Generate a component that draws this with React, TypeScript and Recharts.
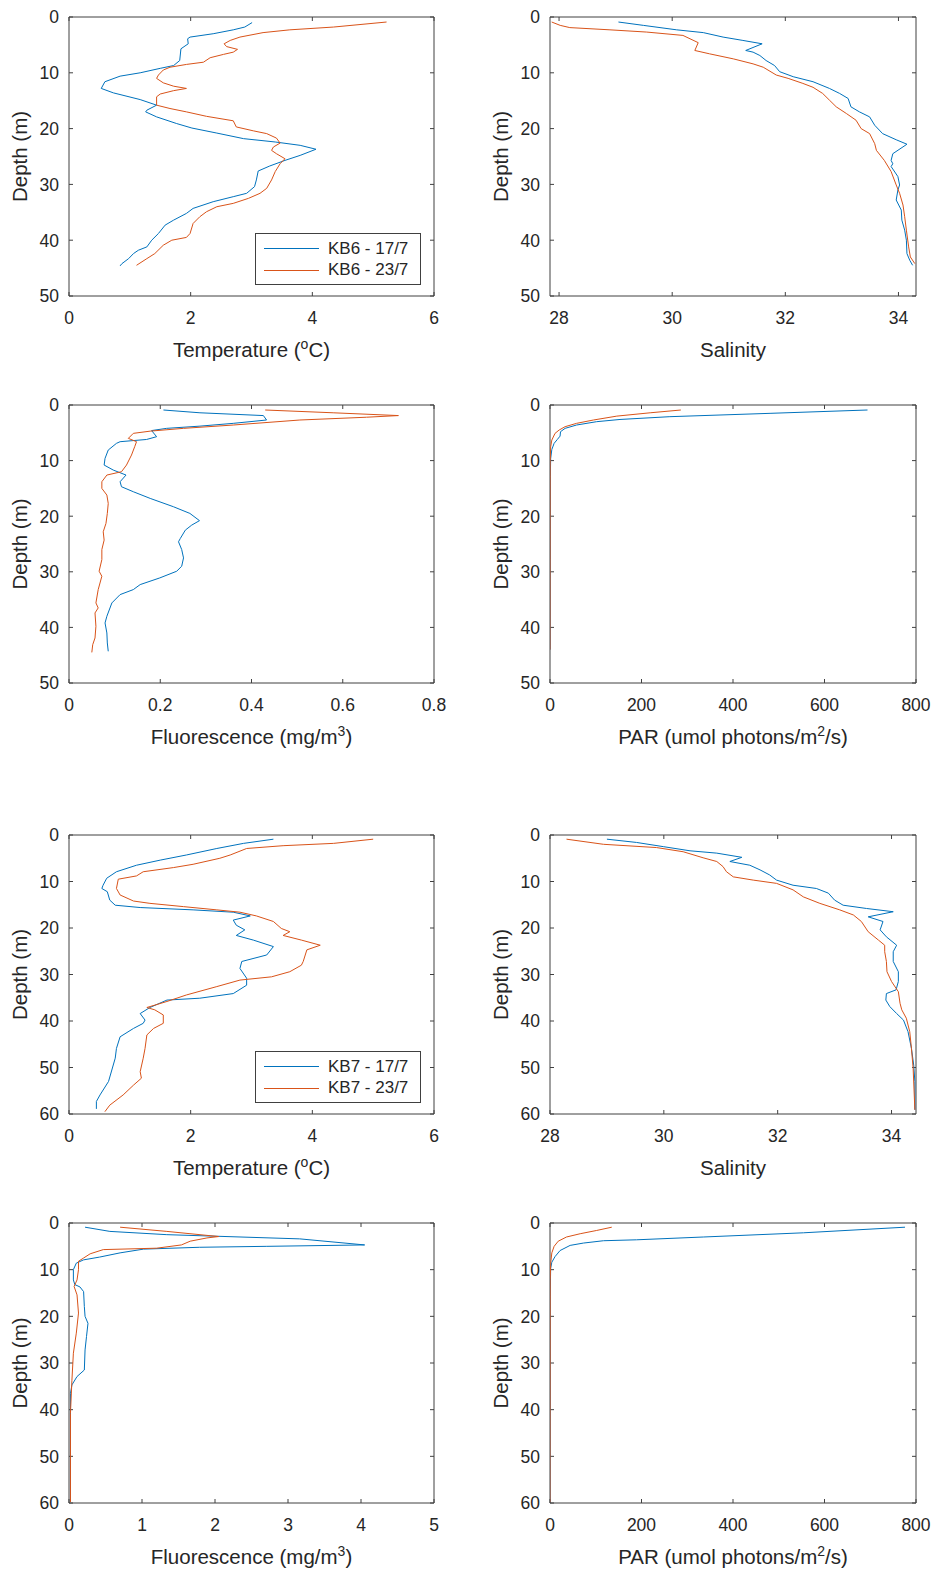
import React from 'react';
import { ScatterChart, Scatter, XAxis, YAxis } from 'recharts';

const FONT = '"Liberation Sans", Arial, Helvetica, sans-serif';
const INK = '#262626';
const AXIS = '#404040';
const BLUE = '#0072BD';
const ORANGE = '#D95319';
const TICK_FS = 17.5;
const LABEL_FS = 20.5;

// profiles as [depth (m), value]
const kb6Temp17 = [[1.0,3.01],[1.8,2.89],[2.3,2.70],[3.0,2.37],[3.6,1.99],[3.9,1.95],[4.8,1.96],[5.7,1.84],[7.8,1.82],[8.7,1.72],[9.2,1.50],[10.0,1.17],[10.6,0.84],[11.6,0.59],[12.8,0.53],[13.6,0.73],[14.8,1.17],[15.8,1.44],[16.7,1.28],[17.0,1.26],[17.9,1.44],[19.1,1.77],[19.9,2.02],[20.8,2.43],[21.8,2.87],[22.4,3.39],[23.0,3.80],[23.7,4.06],[24.8,3.80],[25.7,3.55],[26.7,3.30],[27.6,3.11],[29.2,3.08],[30.4,3.05],[31.6,2.92],[32.2,2.70],[33.1,2.37],[34.3,2.04],[35.2,1.93],[36.4,1.72],[37.3,1.58],[38.8,1.47],[40.0,1.36],[41.2,1.28],[41.8,1.14],[42.4,1.06],[43.3,0.98],[44.2,0.87],[44.6,0.84]];
const kb6Temp23 = [[0.9,5.22],[1.8,4.35],[2.3,3.63],[2.8,3.19],[3.6,2.81],[4.2,2.65],[4.8,2.55],[5.3,2.59],[5.8,2.77],[6.3,2.70],[6.7,2.54],[7.3,2.32],[8.1,2.21],[8.5,1.93],[9.0,1.66],[9.5,1.55],[10.4,1.47],[11.0,1.44],[11.8,1.55],[12.4,1.72],[12.8,1.93],[13.2,1.72],[13.8,1.50],[14.3,1.44],[15.8,1.44],[16.4,1.66],[17.0,1.93],[17.8,2.26],[18.6,2.70],[19.7,2.75],[20.4,3.03],[20.9,3.25],[21.7,3.41],[22.6,3.47],[23.3,3.36],[23.9,3.33],[24.5,3.41],[25.4,3.55],[26.3,3.47],[27.7,3.39],[29.2,3.33],[30.7,3.25],[31.6,3.14],[32.5,2.95],[33.4,2.70],[34.0,2.43],[34.9,2.26],[35.8,2.15],[37.0,2.04],[38.8,1.99],[39.5,1.93],[40.0,1.69],[40.9,1.55],[42.4,1.41],[43.3,1.28],[44.5,1.11]];

const kb6Sal17 = [[0.9,29.05],[1.5,29.49],[2.3,30.08],[2.8,30.55],[3.6,30.90],[4.2,31.25],[4.8,31.59],[6.0,31.30],[6.3,31.43],[6.9,31.55],[7.8,31.66],[8.7,31.81],[9.8,31.90],[10.7,32.14],[11.6,32.49],[12.8,32.78],[13.7,32.96],[14.6,33.11],[16.1,33.16],[17.0,33.31],[17.9,33.49],[19.4,33.58],[20.9,33.72],[22.0,33.96],[22.8,34.15],[24.5,33.90],[25.7,33.87],[26.3,33.90],[26.8,33.87],[28.6,33.99],[30.1,34.02],[31.0,33.99],[32.8,33.96],[34.6,34.05],[36.4,34.06],[38.2,34.11],[40.0,34.14],[42.4,34.15],[43.6,34.20],[44.5,34.25]];
const kb6Sal23 = [[0.9,27.87],[1.5,28.02],[1.9,28.19],[2.3,28.90],[2.7,29.55],[3.3,30.19],[4.6,30.46],[6.0,30.40],[6.6,30.66],[7.5,31.08],[8.4,31.43],[9.0,31.61],[10.4,31.84],[11.0,32.05],[11.9,32.31],[12.6,32.49],[13.7,32.66],[14.9,32.78],[16.1,32.90],[17.3,33.08],[18.5,33.25],[20.0,33.34],[20.9,33.49],[22.7,33.58],[23.9,33.61],[25.7,33.75],[27.7,33.87],[30.1,33.96],[31.6,34.02],[33.7,34.08],[35.8,34.11],[38.2,34.14],[41.2,34.18],[43.0,34.21],[44.2,34.29]];

const kb6Fluo17 = [[0.9,0.207],[1.4,0.287],[1.9,0.426],[2.7,0.433],[3.3,0.36],[3.8,0.287],[4.2,0.214],[4.6,0.181],[5.7,0.192],[6.2,0.170],[6.6,0.112],[6.9,0.104],[8.1,0.086],[9.6,0.079],[10.8,0.077],[11.7,0.097],[12.6,0.125],[13.8,0.112],[14.7,0.115],[15.6,0.141],[16.8,0.178],[18.3,0.229],[19.5,0.265],[20.8,0.286],[21.6,0.269],[22.5,0.255],[24.0,0.244],[24.6,0.240],[26.0,0.247],[27.5,0.251],[29.0,0.247],[29.9,0.236],[31.1,0.199],[32.3,0.156],[33.2,0.141],[34.1,0.112],[35.6,0.094],[38.0,0.083],[39.2,0.079],[41.0,0.083],[42.8,0.084],[44.3,0.086]];
const kb6Fluo23 = [[0.9,0.430],[1.4,0.579],[1.9,0.722],[2.2,0.652],[2.7,0.506],[3.6,0.360],[4.2,0.251],[4.7,0.178],[5.1,0.141],[6.0,0.130],[6.6,0.148],[7.5,0.144],[9.0,0.137],[10.8,0.126],[12.0,0.115],[12.6,0.083],[13.8,0.072],[15.0,0.072],[16.2,0.083],[17.7,0.086],[19.5,0.084],[21.3,0.081],[22.8,0.075],[24.3,0.077],[26.0,0.072],[27.8,0.072],[29.9,0.066],[30.8,0.072],[33.2,0.064],[35.6,0.059],[36.5,0.064],[37.4,0.057],[39.8,0.059],[41.9,0.057],[43.1,0.052],[44.5,0.050]];

const kb6Par17 = [[0.9,694],[1.5,481],[2.1,262],[2.6,153],[3.0,102],[3.6,58],[4.2,33],[4.8,23],[5.6,22],[6.2,16],[6.9,9],[8.0,4],[9.6,1.5],[12.9,0.7],[27.8,0.3],[44.0,0.1]];
const kb6Par23 = [[0.9,286],[1.4,219],[2.0,146],[2.7,95],[3.3,58],[3.9,33],[4.5,20],[5.1,11],[6.3,4],[7.5,1.5],[9.9,0.5],[44.0,0]];

const kb7Temp17 = [[0.9,3.36],[1.8,2.87],[2.9,2.43],[4.3,1.93],[5.4,1.50],[6.5,1.11],[7.9,0.78],[9.3,0.62],[10.8,0.56],[11.5,0.54],[12.2,0.63],[14.0,0.67],[15.1,0.76],[15.6,1.17],[16.1,2.04],[16.6,2.70],[17.4,2.98],[18.3,2.70],[19.4,2.75],[20.4,2.89],[21.6,2.75],[22.6,3.03],[24.0,3.36],[25.8,3.25],[27.2,2.84],[28.7,2.81],[30.8,2.92],[32.3,2.92],[34.1,2.70],[35.1,2.15],[35.5,1.61],[37.1,1.33],[38.4,1.17],[39.8,1.25],[40.5,1.22],[41.6,1.06],[43.4,0.84],[45.9,0.78],[48.0,0.76],[53.0,0.65],[55.9,0.51],[57.3,0.45],[58.9,0.45]];
const kb7Temp23 = [[0.9,5.00],[1.8,4.35],[2.3,3.52],[2.9,2.92],[4.3,2.65],[5.0,2.48],[6.3,2.04],[7.0,1.72],[7.9,1.22],[8.8,1.11],[9.5,0.81],[11.5,0.78],[12.9,0.84],[14.2,1.06],[14.7,1.33],[15.4,1.88],[16.1,2.43],[16.6,2.81],[17.4,3.08],[18.6,3.36],[20.1,3.49],[20.8,3.63],[21.6,3.52],[22.6,3.82],[23.7,4.13],[24.7,3.91],[27.2,3.85],[28.0,3.82],[29.4,3.63],[30.5,3.33],[31.2,2.81],[32.6,2.43],[34.4,1.93],[35.8,1.61],[37.1,1.28],[37.6,1.41],[38.7,1.55],[40.5,1.55],[41.6,1.39],[43.0,1.28],[45.9,1.25],[48.0,1.22],[50.9,1.17],[52.3,1.19],[53.8,1.06],[55.9,0.89],[58.1,0.67],[59.5,0.59]];

const kb7Sal17 = [[0.9,29.00],[1.6,29.52],[2.5,29.99],[3.4,30.46],[3.9,30.93],[4.8,31.37],[5.7,31.16],[6.5,31.51],[7.5,31.69],[8.6,31.86],[9.7,31.98],[10.8,32.27],[11.5,32.68],[12.5,32.89],[14.0,33.00],[15.1,33.15],[15.8,33.56],[16.5,34.03],[17.6,33.59],[18.6,33.85],[20.4,33.80],[21.9,33.91],[23.7,34.09],[25.1,34.03],[27.2,34.03],[29.4,34.12],[31.5,34.12],[33.3,34.08],[34.1,33.91],[35.5,33.90],[36.9,33.97],[38.4,34.09],[39.8,34.21],[42.3,34.29],[45.9,34.35],[49.5,34.39],[53.0,34.41],[59.1,34.41]];
const kb7Sal23 = [[0.9,28.29],[2.0,28.94],[2.7,29.87],[3.6,30.34],[4.9,30.69],[5.7,30.93],[6.8,31.04],[7.9,31.10],[9.0,31.22],[9.7,31.57],[10.4,31.98],[11.8,32.27],[13.3,32.45],[14.7,32.74],[16.1,33.09],[17.2,33.33],[18.6,33.47],[20.8,33.59],[22.6,33.77],[23.7,33.88],[25.1,33.88],[27.2,33.91],[29.4,33.92],[31.5,34.00],[33.7,34.12],[36.2,34.15],[37.6,34.18],[39.4,34.26],[42.3,34.32],[45.9,34.35],[50.2,34.38],[59.1,34.41]];

const kb7Fluo17 = [[0.9,0.22],[1.8,0.56],[2.5,1.34],[3.4,3.16],[4.7,4.05],[5.0,2.71],[5.2,1.79],[5.6,1.02],[6.4,0.70],[7.3,0.42],[7.9,0.20],[8.6,0.10],[10.0,0.06],[12.2,0.06],[13.2,0.08],[13.7,0.15],[14.7,0.20],[17.9,0.21],[20.0,0.22],[21.5,0.26],[24.3,0.24],[27.2,0.22],[31.5,0.21],[32.9,0.11],[34.7,0.04],[36.5,0.02],[59.8,0.02]];
const kb7Fluo23 = [[0.9,0.70],[1.8,1.34],[2.9,2.05],[3.2,1.89],[3.9,1.66],[4.7,1.54],[5.4,1.20],[5.7,0.47],[6.6,0.29],[7.5,0.20],[8.2,0.13],[10.0,0.13],[12.2,0.11],[13.6,0.07],[15.4,0.11],[19.3,0.13],[23.6,0.10],[27.9,0.06],[33.7,0.04],[40.8,0.02],[59.8,0.02]];

const kb7Par17 = [[0.9,776],[2.1,554],[3.0,335],[3.6,189],[3.8,117],[4.3,73],[4.8,44],[5.9,22],[7.2,11],[8.4,4],[9.7,1.5],[15.7,0.3],[59.8,0]];
const kb7Par23 = [[0.9,135],[1.6,102],[2.3,66],[3.0,36],[3.9,18],[5.0,9],[6.4,4],[8.6,1.5],[12.2,0.5],[59.8,0]];

const depthTicks50 = [0, 10, 20, 30, 40, 50];
const depthTicks60 = [0, 10, 20, 30, 40, 50, 60];
const tempTicks = [0, 2, 4, 6];
const salTicks = [28, 30, 32, 34];
const fluoTicksKB6 = [0, 0.2, 0.4, 0.6, 0.8];
const fluoTicksKB7 = [0, 1, 2, 3, 4, 5];
const parTicks = [0, 200, 400, 600, 800];
const legendKB6 = ['KB6 - 17/7', 'KB6 - 23/7'];
const legendKB7 = ['KB7 - 17/7', 'KB7 - 23/7'];

type XLabel = { pre: string; sup?: string; post?: string };
const tempLabel: XLabel = { pre: 'Temperature (', sup: 'o', post: 'C)' };
const salLabel: XLabel = { pre: 'Salinity' };
const fluoLabel: XLabel = { pre: 'Fluorescence (mg/m', sup: '3', post: ')' };
const parLabel: XLabel = { pre: 'PAR (umol photons/m', sup: '2', post: '/s)' };

const toPoints = (rows: number[][]) => rows.map(([d, v]) => ({ d, v }));

const BottomTick = (p: any) => (
  <text x={p.x} y={p.y} textAnchor="middle" fontSize={TICK_FS} fontFamily={FONT} fill={INK}>
    {p.payload.value}
  </text>
);
const LeftTick = (p: any) => (
  <text x={p.x} y={p.y + 6.3} textAnchor="end" fontSize={TICK_FS} fontFamily={FONT} fill={INK}>
    {p.payload.value}
  </text>
);
const NoTick = () => <g />;
const NoShape = () => <g />;

const TOP_H = 12;
const RIGHT_W = 20;
const BOTTOM_H = 68;

interface ProfileProps {
  left: number;
  top: number;
  axisW: number;
  plotW: number;
  plotH: number;
  xDomain: [number, number];
  xTicks: number[];
  yMax: number;
  yTicks: number[];
  xLabel: XLabel;
  first: number[][];
  second: number[][];
  legend?: string[];
}

const Profile: React.FC<ProfileProps> = ({ left, top, axisW, plotW, plotH, xDomain, xTicks, yMax, yTicks, xLabel, first, second, legend }) => {
  const width = axisW + plotW + RIGHT_W;
  const height = TOP_H + plotH + BOTTOM_H;
  const xLab = () => (
    <text x={axisW + plotW / 2} y={TOP_H + plotH + 61} textAnchor="middle" fontSize={LABEL_FS} fontFamily={FONT} fill={INK}>
      {xLabel.pre}
      {xLabel.sup && (
        <>
          <tspan dy={-8} fontSize={14}>{xLabel.sup}</tspan>
          <tspan dy={8}>{xLabel.post}</tspan>
        </>
      )}
    </text>
  );
  const yLab = () => (
    <text transform={`translate(${axisW - 42},${TOP_H + plotH / 2}) rotate(-90)`} textAnchor="middle" fontSize={LABEL_FS} fontFamily={FONT} fill={INK}>
      Depth (m)
    </text>
  );
  return (
    <div style={{ position: 'absolute', left, top: top - TOP_H, width, height }}>
      <ScatterChart width={width} height={height} margin={{ top: 0, right: 0, bottom: 0, left: 0 }}>
        <XAxis xAxisId="b" type="number" dataKey="v" orientation="bottom" domain={xDomain} ticks={xTicks} allowDataOverflow interval={0}
          height={BOTTOM_H} stroke={AXIS} tickSize={-4} tickMargin={32} tick={BottomTick} label={{ content: xLab }} />
        <XAxis xAxisId="t" type="number" dataKey="v" orientation="top" domain={xDomain} ticks={xTicks} allowDataOverflow interval={0}
          height={TOP_H} stroke={AXIS} tickSize={-4} tick={NoTick} />
        <YAxis yAxisId="l" type="number" dataKey="d" orientation="left" domain={[0, yMax]} ticks={yTicks} reversed allowDataOverflow interval={0}
          width={axisW} stroke={AXIS} tickSize={-4} tickMargin={14} tick={LeftTick} label={{ content: yLab }} />
        <YAxis yAxisId="r" type="number" dataKey="d" orientation="right" domain={[0, yMax]} ticks={yTicks} reversed allowDataOverflow interval={0}
          width={RIGHT_W} stroke={AXIS} tickSize={-4} tick={NoTick} />
        <Scatter xAxisId="b" yAxisId="l" data={toPoints(first)} fill="none" shape={NoShape} line={{ stroke: BLUE, strokeWidth: 1 }} lineType="joint" isAnimationActive={false} />
        <Scatter xAxisId="b" yAxisId="l" data={toPoints(second)} fill="none" shape={NoShape} line={{ stroke: ORANGE, strokeWidth: 1 }} lineType="joint" isAnimationActive={false} />
      </ScatterChart>
      {legend && (
        <div style={{ position: 'absolute', left: axisW + plotW - 13 - 166, top: TOP_H + plotH - 11 - 52, width: 164, height: 50, border: `1px solid ${AXIS}`, background: '#fff', fontFamily: FONT, fontSize: 17, color: INK }}>
          {legend.map((name, i) => (
            <div key={name} style={{ position: 'absolute', left: 0, top: 4 + i * 21.7, height: 21, display: 'flex', alignItems: 'center' }}>
              <svg width={72} height={21}>
                <line x1={8} x2={63} y1={10.5} y2={10.5} stroke={i === 0 ? BLUE : ORANGE} strokeWidth={1} />
              </svg>
              <span style={{ whiteSpace: 'nowrap' }}>{name}</span>
            </div>
          ))}
        </div>
      )}
    </div>
  );
};

const LEFT_COL = { left: 0, axisW: 69, plotW: 365 };
const RIGHT_COL = { left: 470, axisW: 80, plotW: 366 };

export default function App() {
  return (
    <div style={{ position: 'absolute', left: 0, top: 0, width: 936, height: 1573, overflow: 'hidden', background: '#fff' }}>
      <Profile {...LEFT_COL} top={17} plotH={279} xDomain={[0, 6]} xTicks={tempTicks} yMax={50} yTicks={depthTicks50} xLabel={tempLabel} first={kb6Temp17} second={kb6Temp23} legend={legendKB6} />
      <Profile {...RIGHT_COL} top={17} plotH={279} xDomain={[27.84, 34.31]} xTicks={salTicks} yMax={50} yTicks={depthTicks50} xLabel={salLabel} first={kb6Sal17} second={kb6Sal23} />
      <Profile {...LEFT_COL} top={405} plotH={278} xDomain={[0, 0.8]} xTicks={fluoTicksKB6} yMax={50} yTicks={depthTicks50} xLabel={fluoLabel} first={kb6Fluo17} second={kb6Fluo23} />
      <Profile {...RIGHT_COL} top={405} plotH={278} xDomain={[0, 800]} xTicks={parTicks} yMax={50} yTicks={depthTicks50} xLabel={parLabel} first={kb6Par17} second={kb6Par23} />
      <Profile {...LEFT_COL} top={835} plotH={279} xDomain={[0, 6]} xTicks={tempTicks} yMax={60} yTicks={depthTicks60} xLabel={tempLabel} first={kb7Temp17} second={kb7Temp23} legend={legendKB7} />
      <Profile {...RIGHT_COL} top={835} plotH={279} xDomain={[28, 34.43]} xTicks={salTicks} yMax={60} yTicks={depthTicks60} xLabel={salLabel} first={kb7Sal17} second={kb7Sal23} />
      <Profile {...LEFT_COL} top={1223} plotH={280} xDomain={[0, 5]} xTicks={fluoTicksKB7} yMax={60} yTicks={depthTicks60} xLabel={fluoLabel} first={kb7Fluo17} second={kb7Fluo23} />
      <Profile {...RIGHT_COL} top={1223} plotH={280} xDomain={[0, 800]} xTicks={parTicks} yMax={60} yTicks={depthTicks60} xLabel={parLabel} first={kb7Par17} second={kb7Par23} />
    </div>
  );
}
